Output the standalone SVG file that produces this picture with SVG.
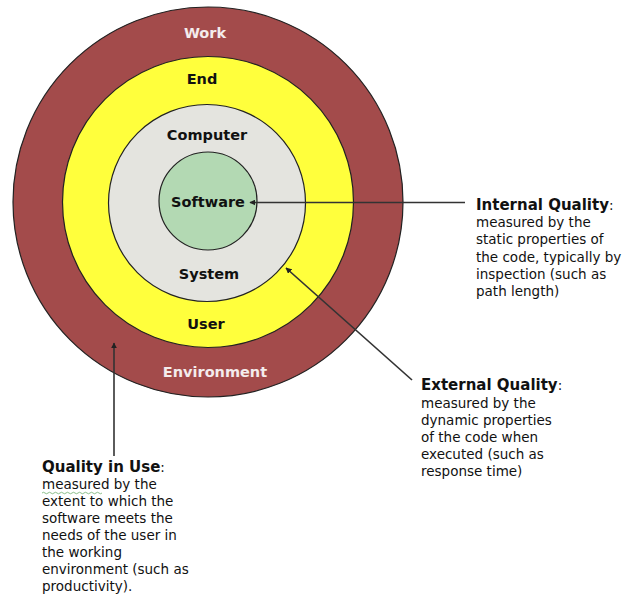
<svg xmlns="http://www.w3.org/2000/svg" width="638" height="595" viewBox="0 0 638 595">
<defs>
<style>
.ring{stroke:#222;stroke-width:1.2}
.lbl{font-family:"DejaVu Sans",Verdana,sans-serif;font-weight:bold;font-size:14.5px;text-anchor:middle}
.w{fill:#f4ecec}
.k{fill:#111}
.t{font-family:"DejaVu Sans",Verdana,sans-serif;font-size:13.5px;fill:#111}
.h{font-weight:bold;font-size:15px}
.conn{stroke:#333;stroke-width:1.6;fill:none;marker-end:url(#ah)}
</style>
<marker id="ah" viewBox="0 0 10 10" refX="9" refY="5" markerWidth="6" markerHeight="6" orient="auto" markerUnits="userSpaceOnUse">
<path d="M0,0 L10,5 L0,10 z" fill="#222"/>
</marker>
</defs>
<rect width="638" height="595" fill="#fff"/>
<g id="work">
<circle class="ring" cx="208" cy="202" r="195" fill="#a34b4b"/>
<text class="lbl w" x="205" y="38">Work</text>
<text class="lbl w" x="215" y="377">Environment</text>
</g>
<g id="end-user">
<circle class="ring" cx="208" cy="202" r="145.5" fill="#ffff3c"/>
<text class="lbl k" x="202" y="84">End</text>
<text class="lbl k" x="206" y="329">User</text>
</g>
<g id="computer-system">
<circle class="ring" cx="207" cy="203" r="98.5" fill="#e4e4df"/>
<text class="lbl k" x="207" y="140">Computer</text>
<text class="lbl k" x="209" y="279">System</text>
</g>
<g id="software">
<circle class="ring" cx="208" cy="201" r="49" fill="#b3d9b3"/>
<text class="lbl k" x="208" y="207">Software</text>
</g>
<g id="connectors">
<line class="conn" x1="465" y1="202.5" x2="250" y2="202.5"/>
<line class="conn" x1="412" y1="380" x2="286" y2="268"/>
<line class="conn" x1="114" y1="456" x2="114" y2="343"/>
</g>
<g id="internal-quality">
<text class="t" x="476" y="210"><tspan class="h">Internal Quality</tspan>:</text>
<text class="t" x="476" y="227">measured by the</text>
<text class="t" x="476" y="244">static properties of</text>
<text class="t" x="476" y="262">the code, typically by</text>
<text class="t" x="476" y="279">inspection (such as</text>
<text class="t" x="476" y="296">path length)</text>
</g>
<g id="external-quality">
<text class="t" x="421" y="390"><tspan class="h">External Quality</tspan>:</text>
<text class="t" x="421" y="408">measured by the</text>
<text class="t" x="421" y="425">dynamic properties</text>
<text class="t" x="421" y="442">of the code when</text>
<text class="t" x="421" y="459">executed (such as</text>
<text class="t" x="421" y="476">response time)</text>
</g>
<g id="quality-in-use">
<text class="t" x="42" y="472"><tspan class="h">Quality in Use</tspan>:</text>
<text class="t" x="42" y="489">measured by the</text>
<path d="M42,493 q1.5,-1.5 3,0 t3,0 t3,0 t3,0 t3,0 t3,0 t3,0 t3,0 t3,0 t3,0 t3,0 t3,0 t3,0 t3,0 t3,0 t3,0 t3,0 t3,0 t3,0 t3,0" fill="none" stroke="#6fae6f" stroke-width="0.8"/>
<text class="t" x="42" y="506">extent to which the</text>
<text class="t" x="42" y="523">software meets the</text>
<text class="t" x="42" y="540">needs of the user in</text>
<text class="t" x="42" y="557">the working</text>
<text class="t" x="42" y="574">environment (such as</text>
<text class="t" x="42" y="591">productivity).</text>
</g>
</svg>
